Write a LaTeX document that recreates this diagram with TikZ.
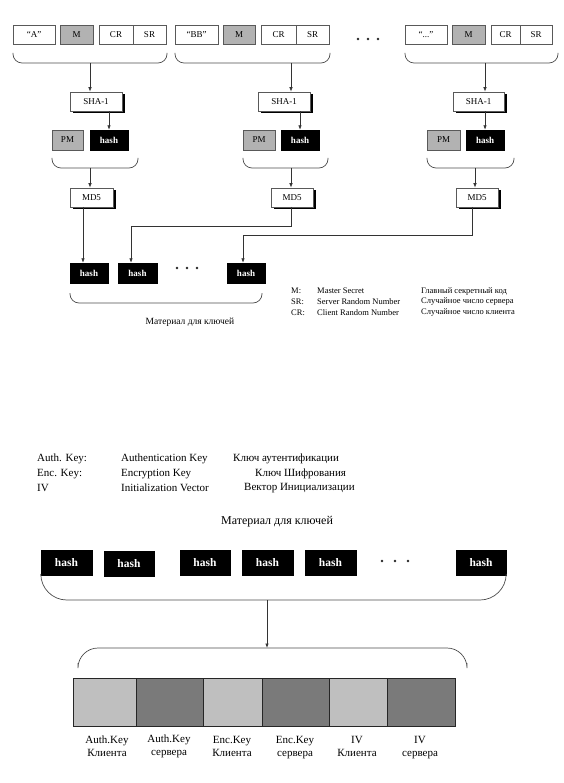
\documentclass[tikz,border=0pt]{standalone}
\usepackage{fontspec}
\setmainfont{Liberation Serif}
\usetikzlibrary{arrows.meta,shadows}
\begin{document}
\begin{tikzpicture}[x=1pt,y=-1pt,
  ln/.style={draw=black!70, line width=0.7pt},
  arr/.style={draw=black!80, line width=0.7pt, -{Latex[length=4.5pt,width=3.5pt]}},
  tb/.style={draw=black!65, line width=0.7pt, fill=white, inner sep=0pt, minimum height=19pt, font=\fontsize{9}{10}\selectfont},
  gb/.style={tb, fill=black!30},
  hb/.style={draw=black, fill=black, text=white, inner sep=0pt, minimum height=20pt, font=\fontsize{9}{10}\selectfont\bfseries},
  hbig/.style={draw=black, fill=black, text=white, inner sep=0pt, minimum height=25pt, font=\fontsize{11.5}{12}\selectfont\bfseries},
  sb/.style={tb, drop shadow={shadow xshift=2.5pt, shadow yshift=-2.5pt, fill=black, opacity=1}},
  dotn/.style={circle, fill=black!85, inner sep=0pt, minimum size=2.8pt},
  lg/.style={anchor=west, inner sep=0pt, font=\fontsize{8.5}{10}\selectfont},
  lt/.style={anchor=west, inner sep=0pt, font=\fontsize{11}{12}\selectfont},
  kb/.style={draw=black!85, line width=0.7pt, inner sep=0pt, minimum height=48pt},
  kl/.style={align=center, inner sep=0pt, font=\fontsize{11}{13}\selectfont},
  br/.style={ln, rounded corners=9pt}
]
\useasboundingbox (0,0) rectangle (563,783);

% ---------------- top panel ----------------
% input rows
\node[tb, minimum width=42pt] (a1) at (34,34.5) {“A”};
\node[gb, minimum width=33pt] (m1) at (76.5,34.5) {M};
\node[tb, minimum width=34pt] (c1) at (116,34.5) {CR};
\node[tb, minimum width=33pt] (s1) at (149.5,34.5) {SR};

\node[tb, minimum width=43pt] (a2) at (196.5,34.5) {“BB”};
\node[gb, minimum width=32pt] (m2) at (239,34.5) {M};
\node[tb, minimum width=35pt] (c2) at (278.5,34.5) {CR};
\node[tb, minimum width=33pt] (s2) at (312.5,34.5) {SR};

\node[tb, minimum width=42pt] (a3) at (426,34.5) {“...”};
\node[gb, minimum width=33pt] (m3) at (468.5,34.5) {M};
\node[tb, minimum width=29pt] (c3) at (505.5,34.5) {CR};
\node[tb, minimum width=32pt] (s3) at (536,34.5) {SR};

\node[dotn] (td1) at (358,39) {};
\node[dotn] (td2) at (368,39) {};
\node[dotn] (td3) at (378,39) {};

% top braces
\draw[br] (13,53) |- (167,63) -- (167,53);
\draw[br] (175,53) |- (330,63) -- (330,53);
\draw[br] (405,53) |- (558,63) -- (558,53);
\coordinate (t1) at (90,63);
\coordinate (t2) at (291,63);
\coordinate (t3) at (485,63);

% SHA-1
\node[sb, minimum width=52pt] (sha1) at (96,101.5) {SHA-1};
\node[sb, minimum width=52pt] (sha2) at (284,101.5) {SHA-1};
\node[sb, minimum width=51pt] (sha3) at (478.5,101.5) {SHA-1};
\draw[arr] (t1) -- (t1 |- sha1.north);
\draw[arr] (t2) -- (t2 |- sha2.north);
\draw[arr] (t3) -- (t3 |- sha3.north);

% PM / hash
\node[gb, minimum width=31pt, minimum height=20pt] (pm1) at (67.5,140) {PM};
\node[hb, minimum width=38pt] (hs1) at (109,140) {hash};
\node[gb, minimum width=32pt, minimum height=20pt] (pm2) at (259,140) {PM};
\node[hb, minimum width=38pt] (hs2) at (300,140) {hash};
\node[gb, minimum width=33pt, minimum height=20pt] (pm3) at (443.5,140) {PM};
\node[hb, minimum width=38pt] (hs3) at (485,140) {hash};
\draw[arr] (hs1.north |- sha1.south) -- (hs1.north);
\draw[arr] (hs2.north |- sha2.south) -- (hs2.north);
\draw[arr] (hs3.north |- sha3.south) -- (hs3.north);

% second braces
\draw[br] (52,158) |- (138,168) -- (138,158);
\draw[br] (243,158) |- (328,168) -- (328,158);
\draw[br] (427,158) |- (514,168) -- (514,158);
\coordinate (p1) at (90,168);
\coordinate (p2) at (291,168);
\coordinate (p3) at (475,168);

% MD5
\node[sb, minimum width=43pt] (md1) at (91.5,197.5) {MD5};
\node[sb, minimum width=42pt] (md2) at (292,197.5) {MD5};
\node[sb, minimum width=42pt] (md3) at (477,197.5) {MD5};
\draw[arr] (p1) -- (p1 |- md1.north);
\draw[arr] (p2) -- (p2 |- md2.north);
\draw[arr] (p3) -- (p3 |- md3.north);

% bottom hash row
\node[hb, minimum width=38pt] (hb1) at (89,273) {hash};
\node[hb, minimum width=39pt] (hb2) at (137.5,273) {hash};
\node[hb, minimum width=38pt] (hb3) at (246,273) {hash};
\node[dotn] (bd1) at (177,268) {};
\node[dotn] (bd2) at (187,268) {};
\node[dotn] (bd3) at (197,268) {};

\coordinate (o1) at (83,207);
\coordinate (o2) at (291,207);
\coordinate (o3) at (472,207);
\coordinate (k2) at (131,226);
\coordinate (k3) at (243,235);
\draw[arr] (o1) -- (o1 |- hb1.north);
\draw[arr] (o2) |- (k2) -- (k2 |- hb2.north);
\draw[arr] (o3) |- (k3) -- (k3 |- hb3.north);

\draw[br] (70,293) |- (262,303) -- (262,293);
\node[inner sep=0pt, font=\fontsize{9.5}{11}\selectfont] (mat1) at (190,322) {Материал для ключей};

% legend
\node[lg] (lm) at (291,291) {M:};
\node[lg] (ls) at (291,302) {SR:};
\node[lg] (lc) at (291,313) {CR:};
\node[lg] (lm2) at (317,291) {Master Secret};
\node[lg] (ls2) at (317,302) {Server Random Number};
\node[lg] (lc2) at (317,313) {Client Random Number};
\node[lg] (lm3) at (421,291) {Главный секретный код};
\node[lg] (ls3) at (421,302) {Случайное число сервера};
\node[lg] (lc3) at (421,313) {Случайное число клиента};

% ---------------- bottom panel ----------------
\node[lt] (x1) at (37,459) {Auth. Key:};
\node[lt] (x2) at (37,474) {Enc. Key:};
\node[lt] (x3) at (37,488) {IV};
\node[lt] (y1) at (121,459) {Authentication Key};
\node[lt] (y2) at (121,474) {Encryption Key};
\node[lt] (y3) at (121,488) {Initialization Vector};
\node[lt] (z1) at (233,459) {Ключ аутентификации};
\node[lt] (z2) at (255,474) {Ключ Шифрования};
\node[lt] (z3) at (244,488) {Вектор Инициализации};

\node[inner sep=0pt, font=\fontsize{12}{13}\selectfont] (mat2) at (277,522) {Материал для ключей};

\node[hbig, minimum width=51pt] (g1) at (66.5,563) {hash};
\node[hbig, minimum width=50pt] (g2) at (129,564) {hash};
\node[hbig, minimum width=50pt] (g3) at (205,563) {hash};
\node[hbig, minimum width=51pt] (g4) at (267.5,563) {hash};
\node[hbig, minimum width=51pt] (g5) at (330.5,563) {hash};
\node[hbig, minimum width=50pt] (g6) at (481,563) {hash};
\node[dotn] (ld1) at (382,561) {};
\node[dotn] (ld2) at (395,561) {};
\node[dotn] (ld3) at (408,561) {};

\draw[ln, rounded corners=26pt] (g1.south west) |- (506,600) -- (g6.south east);
\coordinate (q1) at (267,600);
\coordinate (q2) at (267,648);
\draw[arr] (q1) -- (q2);
\draw[ln, rounded corners=20pt] (78,663) |- (467,648) -- (467,663);

% key blocks
\node[kb, fill=black!25, minimum width=63pt] (k1) at (104.5,702) {};
\node[kb, fill=black!52, minimum width=67pt] (kk2) at (169.5,702) {};
\node[kb, fill=black!25, minimum width=59pt] (kk3) at (232.5,702) {};
\node[kb, fill=black!52, minimum width=67pt] (kk4) at (295.5,702) {};
\node[kb, fill=black!25, minimum width=58pt] (kk5) at (358,702) {};
\node[kb, fill=black!52, minimum width=68pt] (kk6) at (421,702) {};

\node[kl] (kl1) at (107,746.5) {Auth.Key\\Клиента};
\node[kl] (kl2) at (169,746.5) {Auth.Key\\сервера};
\node[kl] (kl3) at (232,746.5) {Enc.Key\\Клиента};
\node[kl] (kl4) at (295,748) {Enc.Key\\сервера};
\node[kl] (kl5) at (357,746.5) {IV\\Клиента};
\node[kl] (kl6) at (420,748) {IV\\сервера};
\end{tikzpicture}
\end{document}
